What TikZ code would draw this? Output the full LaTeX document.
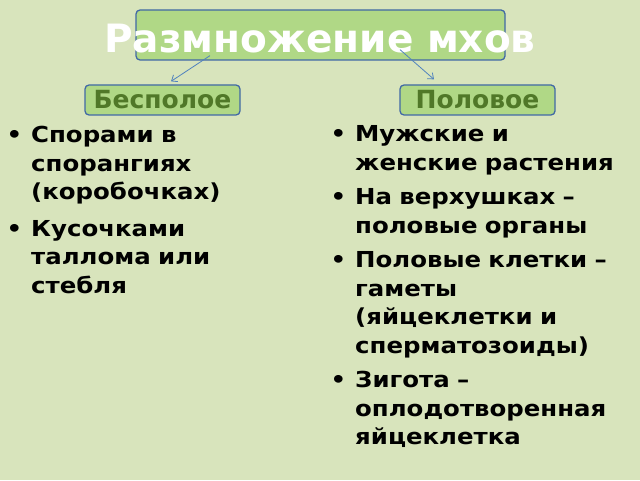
\documentclass[tikz,border=0pt]{standalone}
\usepackage{fontspec}
\setmainfont{DejaVu Sans}
\newfontfamily\listfont{DejaVu Sans}[FakeStretch=1.11]
\usetikzlibrary{positioning,arrows.meta}
\definecolor{slidebg}{RGB}{216,228,188}
\definecolor{boxfill}{RGB}{176,216,134}
\definecolor{boxline}{RGB}{65,105,165}
\definecolor{headgreen}{RGB}{80,120,40}
\definecolor{arrowblue}{RGB}{80,130,190}
\tikzset{%
  every box/.style={
    rectangle,
    rounded corners=4pt,
    draw=boxline,
    line width=1.3pt,
    fill=boxfill,
    inner sep=0pt
  },
  branch head/.style={
    every box/.try,
    minimum width=155pt,
    minimum height=30pt,
    text=headgreen,
    font=\fontsize{25}{25}\selectfont\bfseries
  },
  bullet list/.style={
    anchor=base west,
    inner sep=0pt,
    align=left,
    text width=#1,
    font=\listfont\fontsize{22}{28.5}\selectfont\bfseries
  },
  link/.style={
    draw=arrowblue,
    line width=0.8pt,
    -{Straight Barb[length=5pt,width=8pt]}
  },
}
\newcommand{\bul}{\leavevmode\llap{•\hspace{9pt}}}

\begin{document}
\begin{tikzpicture}[x=1pt, y=1pt]

\fill [slidebg] (0,0) rectangle (640,480);
\useasboundingbox (0,0) rectangle (640,480);

\node [every box/.try, minimum width=369pt, minimum height=50pt] (title-box) at (320.5,445) {};
\node [text=white, font=\fontsize{39}{39}\selectfont\bfseries] (title) at (320,441) {Размножение мхов};

\node [branch head] (asexual) at (162.5,380) {Бесполое};
\node [branch head] (sexual) at (477.5,380) {Половое};

\draw [link] ([xshift=-110.5pt,yshift=5pt]title-box.south) -- ([xshift=8.5pt,yshift=3pt]asexual.north);
\draw [link] ([xshift=79.5pt,yshift=11pt]title-box.south) -- ([xshift=-43.5pt,yshift=5pt]sexual.north);

\node [bullet list=290pt] (asexual-list) at (31,337) {%
  \bul Спорами в\\
  спорангиях\\
  (коробочках)\\[8pt]
  \bul Кусочками\\
  таллома или\\
  стебля};

\node [bullet list=285pt] (sexual-list) at (355,338) {%
  \bul Мужские и\\
  женские растения\\[6pt]
  \bul На верхушках –\\
  половые органы\\[6pt]
  \bul Половые клетки –\\
  гаметы\\
  (яйцеклетки и\\
  сперматозоиды)\\[6pt]
  \bul Зигота –\\
  оплодотворенная\\
  яйцеклетка};

\end{tikzpicture}
\end{document}
